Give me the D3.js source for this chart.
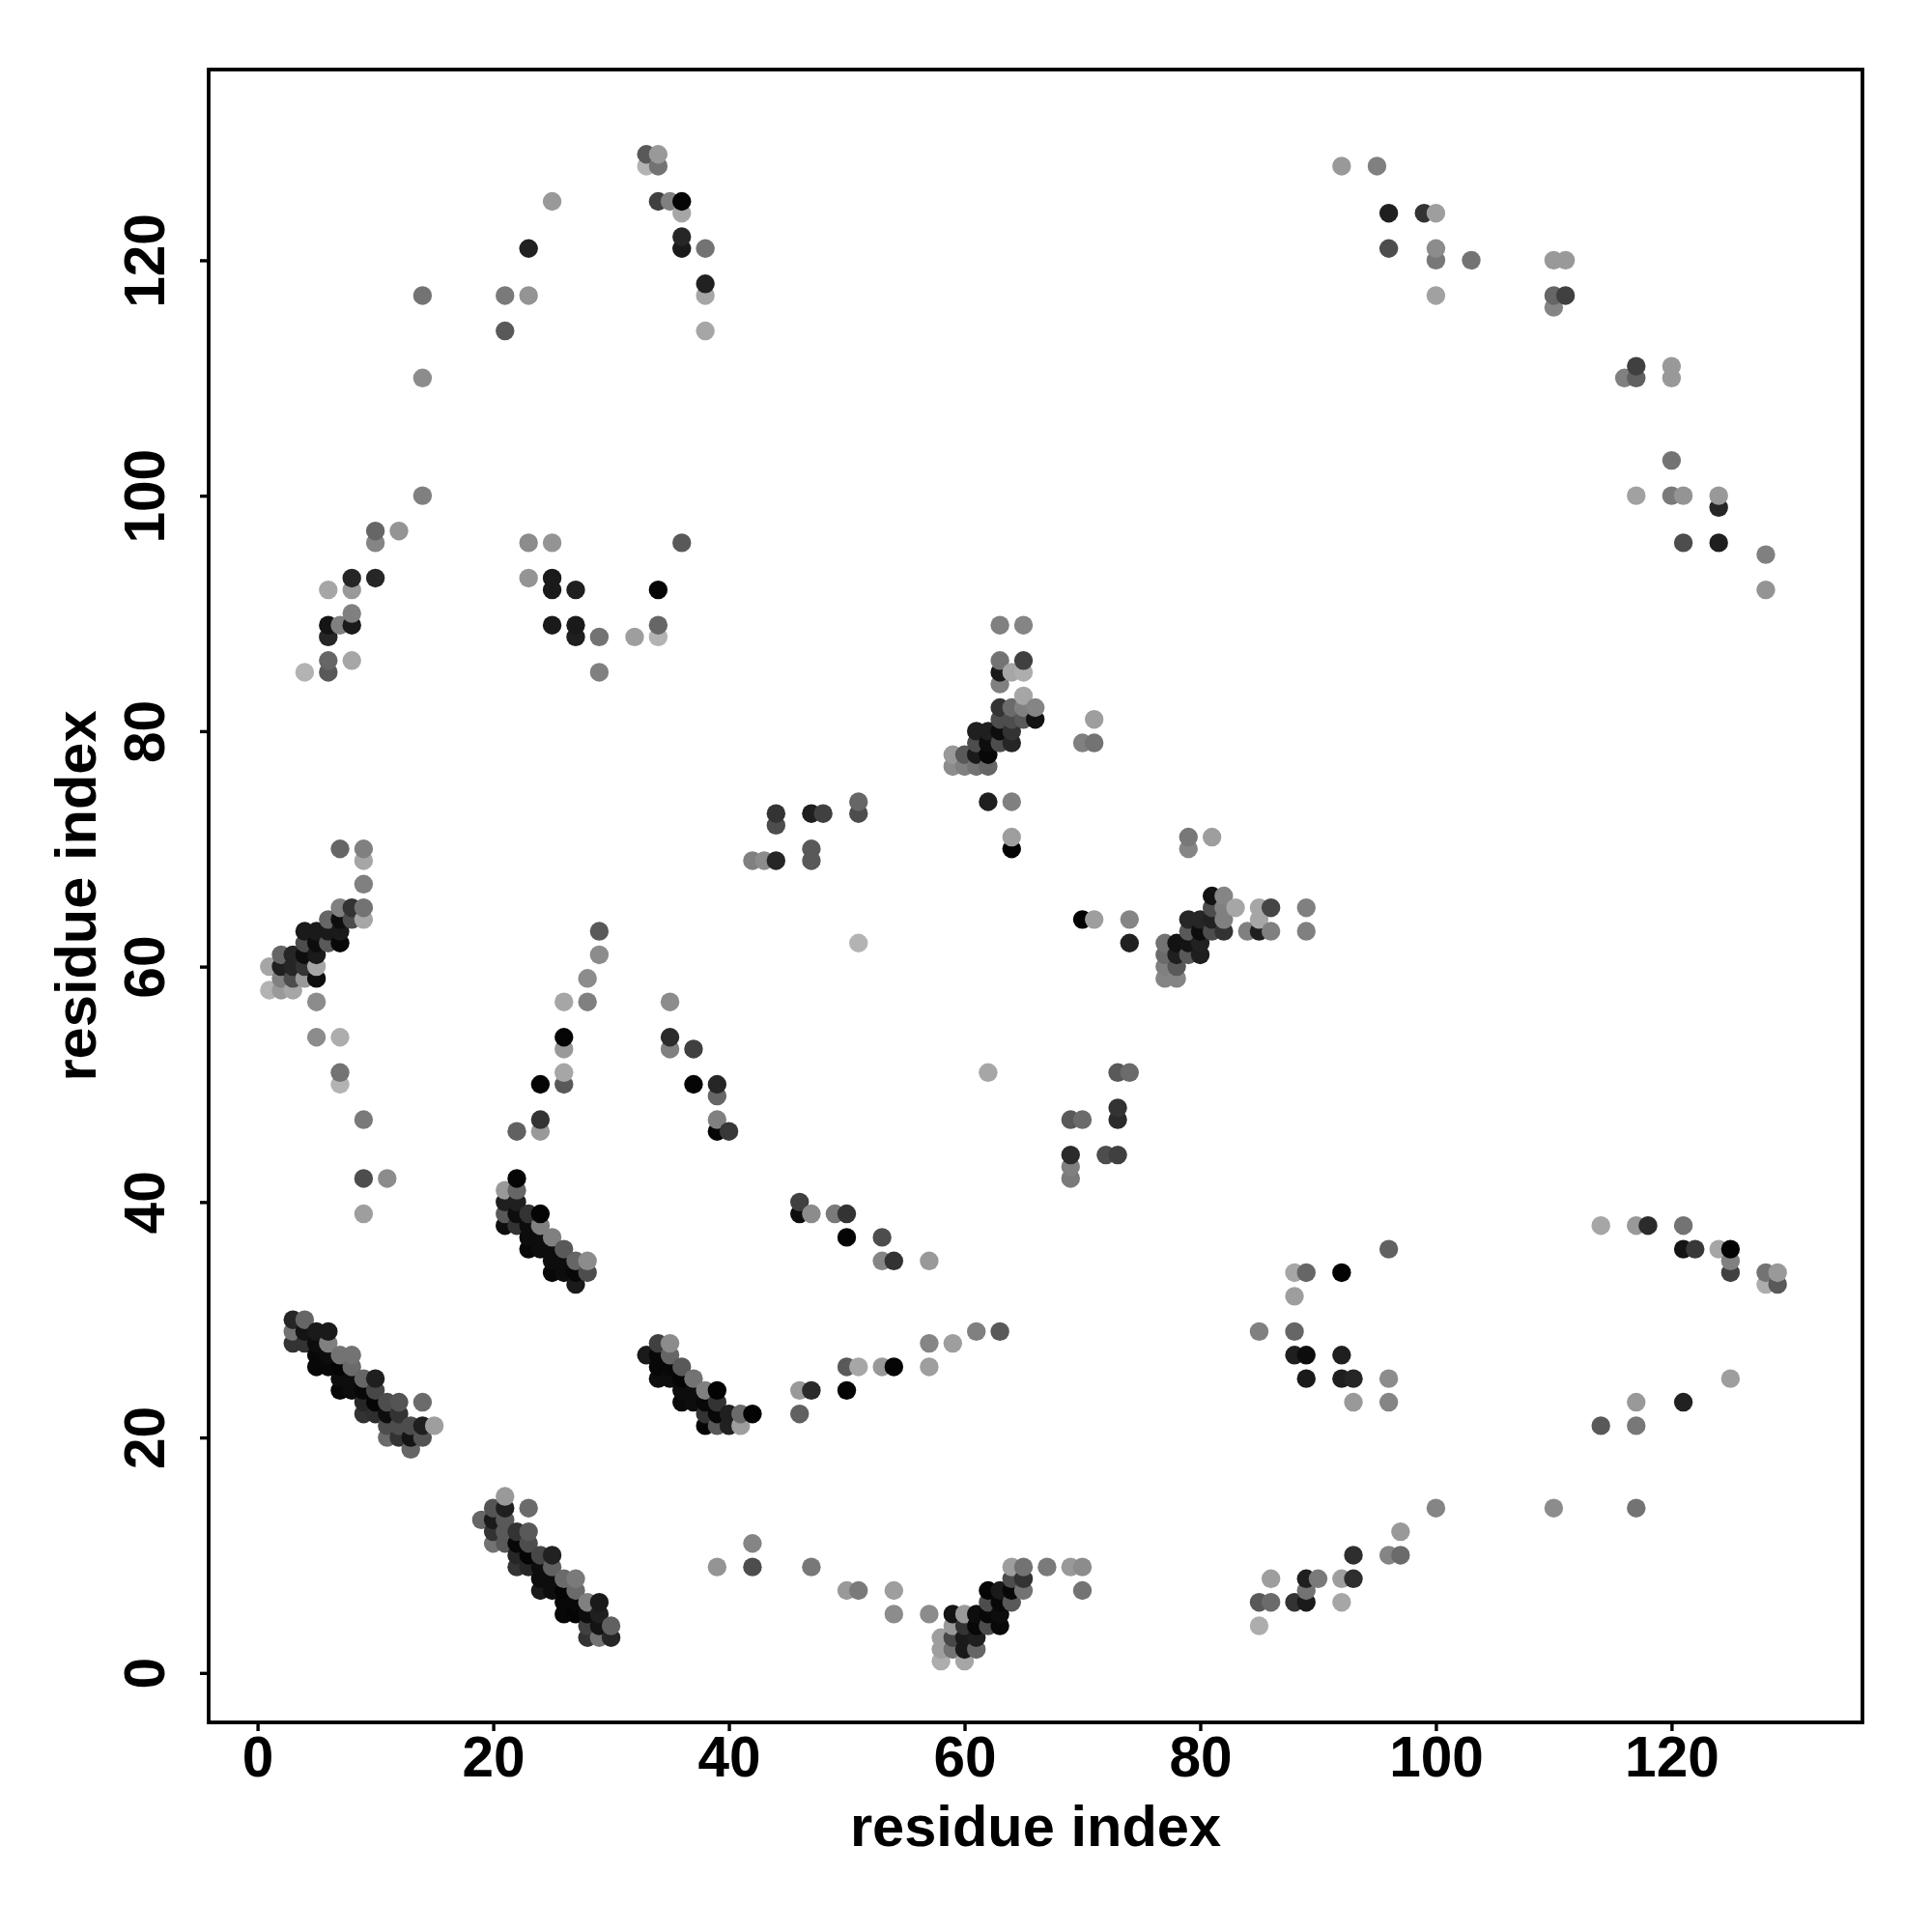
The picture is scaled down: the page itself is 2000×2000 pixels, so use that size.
<!DOCTYPE html>
<html>
<head>
<meta charset="utf-8">
<script src="https://d3js.org/d3.v7.min.js"></script>
<style>html,body{margin:0;padding:0;background:#fff}svg{display:block}</style>
</head>
<body>
<svg id="c" width="2000" height="2000"></svg>
<script>
// [residue i, residue j, shade level (0 = black, 1 = white)]
const nTerminalArc = [[14,117,.45],[14,110,.55],[14,100,.5],[21,117,.48],[21,114,.35],[23,121,.13],[23,117,.58],[25,125,.6],
[33,129,.35],[33,128,.7],[34,128,.45],[34,129,.6],[34,125,.25],[35,125,.5],[36,124,.65],[36,125,.02],[36,122,.15],[36,121,.1],
[38,121,.45],[38,118,.13],[38,117,.65],[38,114,.65]];
const upperLeftBands = [[4,85,.7],[6,85,.35],[6,86,.4],[6,88,.15],[6,89,.08],[6,92,.65],[7,89,.5],[8,86,.65],[8,89,.1],[8,90,.5],[8,92,.6],[8,93,.15],
[10,93,.15],[10,96,.52],[10,97,.4],[12,97,.58],[23,93,.58],[23,96,.55],[25,89,.1],[25,92,.1],[25,93,.1],[25,96,.58],[27,88,.12],[27,89,.1],[27,92,.12],
[29,85,.5],[29,88,.45],[32,88,.62],[34,88,.7],[34,89,.4],[34,92,.02],[36,96,.35]];
const midBand = [[42,69,.5],[43,69,.55],[44,69,.15],[44,72,.3],[44,73,.2],[47,69,.35],[47,70,.35],[47,73,.12],[48,73,.25],[51,73,.3],[51,74,.4],[51,62,.7],
[62,51,.65],[29,61,.55],[29,63,.35],[62,74,.12],[64,70,.01],[64,71,.62],[64,74,.5],[70,79,.5],[71,79,.45],[71,81,.62],
[70,64,.01],[71,64,.62],[74,62,.13],[74,64,.52],[79,70,.52],[79,71,.47],[81,71,.62]];
const leftCluster = [[1,58,.7],[1,60,.65],[2,58,.6],[2,59,.5],[2,60,.12],[2,61,.4],[3,58,.65],[3,59,.3],[3,60,.15],[3,61,.15],
[4,59,.6],[4,60,.2],[4,61,.05],[4,62,.3],[4,63,.1],[5,57,.55],[5,59,.05],[5,60,.65],[5,61,.1],[5,62,.05],[5,63,.1],
[6,62,.35],[6,63,.1],[6,64,.4],[7,62,.03],[7,63,.1],[7,64,.05],[7,65,.5],[7,70,.4],[8,64,.3],[8,65,.2],
[9,64,.65],[9,65,.45],[9,67,.5],[9,69,.65],[9,70,.5],
[5,54,.55],[7,50,.7],[7,51,.45],[7,54,.68],[9,39,.62],[9,42,.3],[9,47,.48],[11,42,.55]];
const centreArcs = [[22,46,.38],[24,46,.6],[24,47,.2],[24,50,.02],[26,50,.35],[26,51,.65],[26,53,.6],[26,54,.02],[26,57,.65],[28,57,.5],[28,59,.55],
[35,53,.5],[35,54,.17],[35,57,.55],[37,50,.02],[37,53,.25],[39,46,.02],[39,47,.5],[39,49,.4],[39,50,.15],[40,46,.22]];
const strandB = [[21,38,.05],[21,39,.35],[21,40,.12],[21,41,.6],[22,38,.2],[22,39,.05],[22,40,.12],[22,41,.4],[22,42,.02],
[23,36,.03],[23,37,.05],[23,38,.05],[23,39,.2],[24,36,.05],[24,37,.05],[24,38,.5],[24,39,.02],
[25,34,.03],[25,35,.05],[25,36,.05],[25,37,.5],[26,34,.05],[26,35,.05],[26,36,.35],[27,33,.1],[27,34,.03],[27,35,.4],[28,34,.3],[28,35,.55]];
const strandA = [[3,28,.2],[3,29,.45],[3,30,.15],[4,28,.2],[4,29,.08],[4,30,.4],[5,26,.03],[5,27,.03],[5,28,.05],[5,29,.1],
[6,26,.03],[6,27,.05],[6,28,.5],[6,29,.1],[7,24,.03],[7,25,.05],[7,26,.02],[7,27,.45],[8,24,.05],[8,25,.05],[8,26,.42],[8,27,.45],
[9,22,.2],[9,23,.15],[9,24,.03],[9,25,.4],[10,22,.18],[10,23,.02],[10,24,.28],[10,25,.12],[11,20,.42],[11,21,.3],[11,22,.05],[11,23,.3],
[12,20,.2],[12,21,.3],[12,22,.2],[12,23,.33],[13,19,.4],[13,20,.08],[13,21,.3],[14,20,.33],[14,21,.12],[14,23,.42],[15,21,.62]];
const strandC = [[33,27,.1],[34,25,.05],[34,26,.03],[34,27,.03],[34,28,.25],[35,25,.05],[35,26,.03],[35,27,.4],[35,28,.55],
[36,23,.04],[36,24,.05],[36,25,.02],[36,26,.35],[37,23,.05],[37,24,.05],[37,25,.45],[38,21,.02],[38,22,.2],[38,23,.03],[38,24,.5],
[39,21,.35],[39,22,.03],[39,23,.2],[39,24,.01],[40,21,.13],[40,22,.12],[41,21,.62],[41,22,.42],[42,22,.01]];
const strandD = [[19,13,.4],[20,11,.45],[20,12,.2],[20,13,.1],[20,14,.33],[21,11,.35],[21,12,.35],[21,13,.35],[21,14,.12],[21,15,.6],
[22,9,.2],[22,10,.15],[22,11,.03],[22,12,.2],[23,9,.15],[23,10,.02],[23,11,.3],[23,12,.35],[23,14,.42],
[24,7,.1],[24,8,.05],[24,9,.05],[24,10,.28],[25,7,.05],[25,8,.05],[25,9,.38],[25,10,.13],[26,5,.03],[26,6,.03],[26,7,.02],[26,8,.42],
[27,5,.02],[27,6,.03],[27,7,.42],[27,8,.48],[28,3,.2],[28,4,.25],[28,5,.05],[28,6,.5],[29,3,.45],[29,4,.08],[29,5,.12],[29,6,.1],[30,3,.15],[30,4,.38]];
const lowerMid = [[39,9,.58],[42,9,.3],[42,11,.52],[47,9,.47],[50,7,.6],[51,7,.48],[54,5,.55],[54,7,.62],[57,5,.55],
[46,39,.05],[46,40,.25],[47,39,.55],[49,39,.48],[50,37,.02],[50,39,.2],[53,35,.52],[53,37,.3],[54,35,.2],[57,35,.6],
[46,22,.38],[46,24,.6],[47,24,.17],[50,24,.02],[50,26,.35],[51,26,.65],[53,26,.6],[54,26,.02],[57,26,.62],[57,28,.52],[59,28,.62],[61,29,.5],[63,29,.35]];
const strandE = [[58,1,.68],[58,2,.62],[58,3,.62],[59,2,.45],[59,3,.28],[59,4,.6],[59,5,.08],[60,1,.65],[60,2,.1],[60,3,.1],[60,4,.2],[60,5,.6],
[61,2,.4],[61,3,.12],[61,4,.03],[61,5,.05],[62,4,.3],[62,5,.03],[62,6,.3],[62,7,.02],[63,4,.03],[63,5,.05],[63,6,.03],[63,7,.1],
[64,6,.35],[64,7,.03],[64,8,.3],[64,9,.62],[65,7,.45],[65,8,.2],[65,9,.45],[67,9,.48],[69,9,.6],[70,7,.45],[70,9,.55]];
const lowerRight = [[85,4,.68],[85,6,.35],[86,6,.42],[86,8,.62],[88,6,.2],[89,6,.1],[89,7,.45],[89,8,.12],[90,8,.48],[92,6,.65],[92,8,.62],[93,8,.18],[93,10,.18],
[96,10,.52],[97,10,.42],[97,12,.6],[100,14,.52],[110,14,.55],[117,14,.45],[114,21,.35],[117,21,.47],[117,23,.6],[121,23,.13],[125,25,.62],
[85,29,.5],[88,27,.12],[88,29,.4],[88,32,.62],[88,34,.65],[89,25,.1],[89,27,.05],[89,34,.4],[92,25,.12],[92,27,.12],[92,34,.01],[93,23,.6],[93,25,.15],[96,23,.52],[96,25,.55],[96,36,.38],
[114,38,.65],[117,38,.6],[118,38,.17],[121,36,.08],[121,38,.45],[122,36,.22],[124,36,.65],[125,34,.25],[125,35,.5],[125,36,.01],[128,33,.68],[128,34,.45],[129,33,.35],[129,34,.6]];
const centreRight = [[69,42,.48],[69,43,.5],[69,44,.17],[69,47,.35],[70,47,.42],[72,44,.3],[73,44,.25],[73,47,.17],[73,48,.2],[73,51,.35],[74,51,.42]];
const upperRight = [[92,128,.6],[95,128,.5],[96,121,.3],[96,124,.12],[99,124,.2],[100,117,.63],[100,120,.47],[100,121,.55],[100,124,.62],[103,120,.45],
[110,116,.52],[110,117,.4],[110,120,.6],[111,117,.25],[111,120,.6],[116,110,.5],[117,110,.38],[117,111,.25],[120,110,.6],[120,111,.6],
[117,100,.63],[120,100,.48],[120,103,.45],[121,96,.3],[121,100,.58],[124,96,.12],[124,99,.15],[124,100,.6],[128,92,.58],[128,95,.5]];
const clusterF = [[59,77,.55],[59,78,.6],[60,77,.5],[60,78,.35],[61,77,.45],[61,78,.1],[61,79,.3],[61,80,.12],[62,77,.4],[62,78,.03],[62,79,.05],[62,80,.12],
[63,79,.3],[63,80,.05],[63,81,.3],[63,82,.2],[63,84,.5],[63,85,.1],[63,86,.45],[63,89,.5],[64,79,.15],[64,80,.2],[64,81,.3],[64,82,.42],[64,85,.65],
[65,81,.35],[65,82,.5],[65,83,.65],[65,85,.68],[65,86,.25],[65,89,.52],[66,81,.07],[66,82,.52]];
const clusterG = [[77,59,.52],[77,60,.5],[77,61,.42],[77,62,.45],[78,59,.52],[78,60,.35],[78,61,.12],[78,62,.07],[79,61,.35],[79,62,.08],[79,63,.35],[79,64,.15],
[80,61,.12],[80,62,.13],[80,63,.05],[80,64,.15],[81,63,.3],[81,64,.13],[81,65,.3],[81,66,.07],[82,63,.2],[82,64,.5],[82,65,.5],[82,66,.52],[83,65,.65],
[84,63,.5],[85,63,.12],[85,64,.65],[85,65,.65],[86,63,.5],[86,65,.27],[89,63,.5],[89,65,.5]];

const xTicks = [0,20,40,60,80,100,120];
const yTicks = [0,20,40,60,80,100,120];
const xLabel = "residue index";
const yLabel = "residue index";

const contacts = [].concat(nTerminalArc, upperLeftBands, midBand, leftCluster, centreArcs, strandB, strandA, strandC,
  strandD, lowerMid, strandE, lowerRight, centreRight, upperRight, clusterF, clusterG)
  .sort((a,b) => d3.ascending(a[0],b[0]) || d3.ascending(a[1],b[1]));

const L = 216, R = 1928, T = 72, B = 1783;
const font = '"Liberation Sans", Arial, sans-serif';
const x = d3.scaleLinear().domain([-4.15,136.2]).range([L,R]);
const y = d3.scaleLinear().domain([-4.2,136.2]).range([B,T]);
const gray = d3.scaleLinear().domain([0,1]).range(["#000000","#ffffff"]);

const svg = d3.select("#c");
svg.append("g").selectAll("circle").data(contacts).join("circle")
  .attr("cx", d => x(d[0])).attr("cy", d => y(d[1])).attr("r", 9.7)
  .attr("fill", d => gray(d[2]));

svg.append("rect").attr("x",L).attr("y",T).attr("width",R-L).attr("height",B-T)
  .attr("fill","none").attr("stroke","#000").attr("stroke-width",3.8);

const gx = svg.append("g").attr("transform",`translate(0,${B})`)
  .call(d3.axisBottom(x).tickValues(xTicks).tickSize(9).tickSizeOuter(0).tickPadding(0).tickFormat(d3.format("d")));
gx.select(".domain").remove();
gx.selectAll("line").attr("stroke","#000").attr("stroke-width",3.4);
gx.selectAll("text").attr("y",56).attr("dy",0).attr("font-family",font).attr("font-weight","bold").attr("font-size",58.5).attr("fill","#000");

const gy = svg.append("g").attr("transform",`translate(${L},0)`)
  .call(d3.axisLeft(y).tickValues(yTicks).tickSize(9).tickSizeOuter(0).tickPadding(0).tickFormat(d3.format("d")));
gy.select(".domain").remove();
gy.selectAll("line").attr("stroke","#000").attr("stroke-width",3.4);
gy.selectAll("text").attr("x",0).attr("y",0).attr("dy",0).attr("font-family",font).attr("font-weight","bold").attr("font-size",58.5)
  .attr("fill","#000").attr("text-anchor","middle").attr("transform","translate(-46,0) rotate(-90)");

svg.append("text").attr("x",(L+R)/2).attr("y",1911).attr("text-anchor","middle")
  .attr("font-family",font).attr("font-weight","bold").attr("font-size",59.6).text(xLabel);
svg.append("text").attr("transform",`translate(99,${(T+B)/2}) rotate(-90)`).attr("text-anchor","middle")
  .attr("font-family",font).attr("font-weight","bold").attr("font-size",59.6).text(yLabel);
</script>
</body>
</html>
